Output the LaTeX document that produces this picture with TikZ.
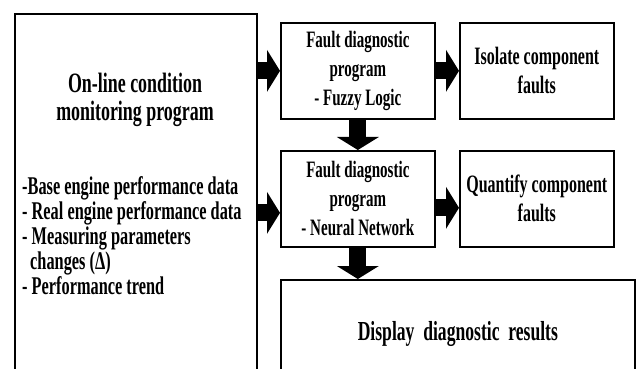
\documentclass[tikz,border=0pt]{standalone}
\usepackage{fontspec}
\setmainfont{Liberation Serif}[FakeStretch=0.64]
\usetikzlibrary{arrows.meta,calc}

\tikzset{
  box/.style={draw, line width=1.7pt, minimum width=154pt, minimum height=96pt,
    inner sep=0pt, align=center, font=\bfseries\fontsize{23.5}{29}\selectfont},
  bigarrow/.style={line width=17pt, -{Triangle[width=42pt,length=13pt,line width=0pt]}},
}

\begin{document}
\begin{tikzpicture}[x=1pt,y=-1pt]
    \useasboundingbox (0,0) rectangle (638,369);
    \clip (0,0) rectangle (638,369);
    % monitoring program
    \node[box, minimum width=242pt, minimum height=420pt, anchor=north west] (mon) at (14,13) {};
    \node[font=\bfseries\fontsize{28}{28}\selectfont, align=center] (title) at (135,100)
      {On-line condition\\monitoring program};
    \node[font=\bfseries\fontsize{25.5}{25}\selectfont, align=left, anchor=north west, inner sep=0pt] (list) at (22,176)
      {-Base engine performance data\\
       - Real engine performance data\\
       - Measuring parameters\\
       \hspace*{8pt}changes (Δ)\\
       - Performance trend};
    % diagnostic boxes
    \node[box, anchor=north west] (fl) at (280,22) {Fault diagnostic\\program\\- Fuzzy Logic};
    \node[box, anchor=north west] (fn) at (280,150) {Fault diagnostic\\program\\- Neural Network};
    \node[box, anchor=north west, font=\bfseries\fontsize{25}{29}\selectfont] (iso) at (459,22) {Isolate component\\faults};
    \node[box, anchor=north west, font=\bfseries\fontsize{25}{29}\selectfont] (qf) at (459,150) {Quantify component\\faults};
    \node[box, anchor=north west, minimum width=354pt, minimum height=108pt,
      font=\bfseries\fontsize{27.5}{29}\selectfont] (disp) at (280,279) {Display\ \ diagnostic\ \ results};
    % arrows
    \draw[bigarrow] (mon.east |- fl.west) -- (fl.west);
    \draw[bigarrow] (fl.east) -- (iso.west);
    \draw[bigarrow] (fl.south) -- (fn.north);
    \draw[bigarrow] ($(mon.east |- fn.west)+(0,14)$) -- ($(fn.west)+(0,14)$);
    \draw[bigarrow] ($(fn.east)+(0,9)$) -- ($(qf.west)+(0,9)$);
    \draw[bigarrow] (fn.south) -- (fn.south |- disp.north);
\end{tikzpicture}
\end{document}
